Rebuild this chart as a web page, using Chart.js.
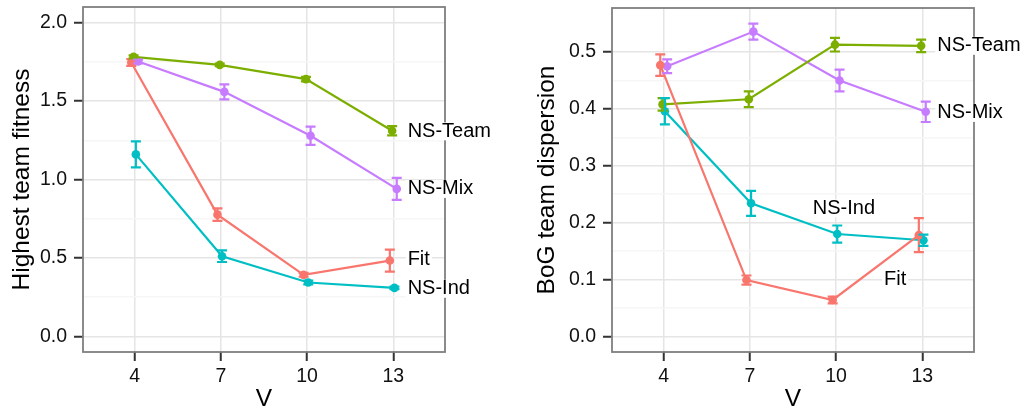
<!DOCTYPE html>
<html>
<head>
<meta charset="utf-8">
<script src="https://cdn.jsdelivr.net/npm/chart.js@4.4.1/dist/chart.umd.min.js"></script>
<style>
  html, body { margin: 0; padding: 0; background: #fff; }
  #wrap { position: relative; width: 1026px; height: 410px; overflow: hidden; }
  canvas { position: absolute; top: 0; }
</style>
</head>
<body>
<div id="wrap">
  <canvas id="left" width="513" height="410" style="left:0"></canvas>
  <canvas id="right" width="513" height="410" style="left:513px"></canvas>
</div>
<script>
const V = [4, 7, 10, 13];
const seriesNames = ['Fit', 'NS-Team', 'NS-Ind', 'NS-Mix'];
const seriesColors = ['#F8766D', '#7CAE00', '#00BFC4', '#C77CFF'];

// highest team fitness: mean and half-width of the error bar
const fitnessFit = [1.746, 0.776, 0.392, 0.483];
const fitnessFitErr = [0.021, 0.040, 0.012, 0.070];
const fitnessTeam = [1.782, 1.731, 1.640, 1.311];
const fitnessTeamErr = [0.010, 0.008, 0.014, 0.030];
const fitnessInd = [1.160, 0.511, 0.343, 0.309];
const fitnessIndErr = [0.083, 0.037, 0.012, 0.008];
const fitnessMix = [1.753, 1.559, 1.279, 0.940];
const fitnessMixErr = [0.012, 0.048, 0.058, 0.070];

// BoG team dispersion
const dispFit = [0.477, 0.099, 0.064, 0.178];
const dispFitErr = [0.019, 0.008, 0.006, 0.030];
const dispTeam = [0.408, 0.417, 0.513, 0.511];
const dispTeamErr = [0.011, 0.014, 0.012, 0.011];
const dispInd = [0.396, 0.234, 0.180, 0.169];
const dispIndErr = [0.023, 0.022, 0.015, 0.010];
const dispMix = [0.475, 0.536, 0.450, 0.395];
const dispMixErr = [0.012, 0.014, 0.019, 0.018];

const fitnessTicks = [0, 0.5, 1, 1.5, 2];
const dispTicks = [0, 0.1, 0.2, 0.3, 0.4, 0.5];

// where the series names sit (left edge x, centre y), same order as seriesNames
const fitnessLabelX = [13.5, 13.5, 13.5, 13.5];
const fitnessLabelY = [0.487, 1.307, 0.303, 0.94];
const dispLabelX = [11.67, 13.52, 9.19, 13.52];
const dispLabelY = [0.100, 0.511, 0.225, 0.393];

const FONT = "'Liberation Sans', Arial, Helvetica, sans-serif";
const dodge = [-0.12, -0.04, 0.04, 0.12]; // position_dodge look

function makePanel(id, p) {
  const isMajor = v => p.ticks.some(t => Math.abs(t - v) < 1e-9);

  const datasets = seriesNames.map((name, s) => ({
    label: name,
    data: V.map((v, i) => ({ x: v + dodge[s], y: p.means[s][i] })),
    borderColor: seriesColors[s],
    backgroundColor: seriesColors[s],
    borderWidth: 2.2,
    pointRadius: 4.3,
    pointHoverRadius: 4.3,
    pointBorderWidth: 0,
    tension: 0
  }));

  const extras = {
    id: 'extras',
    afterDatasetsDraw(chart) {
      const { ctx, chartArea: a, scales: { x, y } } = chart;
      ctx.save();
      // error bars
      ctx.lineWidth = 2.2;
      seriesNames.forEach((name, s) => {
        ctx.strokeStyle = seriesColors[s];
        V.forEach((v, i) => {
          const px = x.getPixelForValue(v + dodge[s]);
          const top = y.getPixelForValue(p.means[s][i] + p.errs[s][i]);
          const bot = y.getPixelForValue(p.means[s][i] - p.errs[s][i]);
          ctx.beginPath();
          ctx.moveTo(px, top); ctx.lineTo(px, bot);
          ctx.moveTo(px - 5, top); ctx.lineTo(px + 5, top);
          ctx.moveTo(px - 5, bot); ctx.lineTo(px + 5, bot);
          ctx.stroke();
        });
      });
      // panel border
      ctx.strokeStyle = '#7f7f7f';
      ctx.lineWidth = 1.8;
      ctx.strokeRect(a.left, a.top, a.right - a.left, a.bottom - a.top);
      // series names with a white box behind
      ctx.font = '20px ' + FONT;
      ctx.textBaseline = 'middle';
      ctx.textAlign = 'left';
      seriesNames.forEach((name, s) => {
        const lx = x.getPixelForValue(p.labelX[s]);
        const ly = y.getPixelForValue(p.labelY[s]);
        const w = ctx.measureText(name).width;
        ctx.fillStyle = '#fff';
        ctx.fillRect(lx - 2, ly - 9, w + 4, 18);
        ctx.fillStyle = '#000';
        ctx.fillText(name, lx, ly);
      });
      ctx.restore();
    }
  };

  return new Chart(document.getElementById(id), {
    type: 'line',
    data: { datasets },
    options: {
      responsive: false,
      animation: false,
      devicePixelRatio: 1,
      layout: { padding: { top: p.top, right: p.right, left: 0, bottom: 0 } },
      plugins: { legend: { display: false }, tooltip: { enabled: false } },
      scales: {
        x: {
          type: 'linear',
          min: 2.2,
          max: 14.8,
          afterBuildTicks: sc => { sc.ticks = V.map(v => ({ value: v })); },
          afterFit: sc => {
            sc.height = 58;
            sc.paddingLeft = 0; sc.paddingRight = 0;
          },
          border: { display: false },
          grid: { color: '#e5e5e5', lineWidth: 1.5, tickColor: '#333', tickWidth: 2, tickLength: 9 },
          ticks: {
            color: '#111', padding: 4, maxRotation: 0, autoSkip: false,
            font: { family: FONT, size: 19.5 },
            callback: v => String(v)
          },
          title: {
            display: true, text: 'V', color: '#000',
            font: { family: FONT, size: 24.5, lineHeight: 0.8 },
            padding: { top: 0, bottom: 0.7 }
          }
        },
        y: {
          min: p.min,
          max: p.max,
          afterBuildTicks: sc => {
            const t = [];
            p.ticks.forEach((v, i) => {
              t.push({ value: v });
              if (i < p.ticks.length - 1) t.push({ value: (v + p.ticks[i + 1]) / 2 });
            });
            sc.ticks = t;
          },
          afterFit: sc => {
            sc.width = p.axisW;
            sc.paddingTop = 0; sc.paddingBottom = 0;
          },
          border: { display: false },
          grid: {
            lineWidth: 1.5,
            color: c => isMajor(c.tick.value) ? '#e5e5e5' : '#f6f6f6',
            tickColor: c => isMajor(c.tick.value) ? '#333' : 'rgba(0,0,0,0)',
            tickWidth: 2,
            tickLength: 9
          },
          ticks: {
            color: '#111', padding: 7, autoSkip: false,
            font: { family: FONT, size: 19.5 },
            callback: v => isMajor(v) ? v.toFixed(1) : ''
          },
          title: {
            display: true, text: p.title, color: '#000',
            font: { family: FONT, size: 24.5, lineHeight: 1 },
            padding: { top: p.titlePad, bottom: 0 }
          }
        }
      }
    },
    plugins: [extras]
  });
}

makePanel('left', {
  means: [fitnessFit, fitnessTeam, fitnessInd, fitnessMix],
  errs: [fitnessFitErr, fitnessTeamErr, fitnessIndErr, fitnessMixErr],
  ticks: fitnessTicks,
  labelX: fitnessLabelX, labelY: fitnessLabelY,
  min: -0.1, max: 2.1,
  title: 'Highest team fitness',
  top: 7, right: 68, axisW: 83, titlePad: 10
});

makePanel('right', {
  means: [dispFit, dispTeam, dispInd, dispMix],
  errs: [dispFitErr, dispTeamErr, dispIndErr, dispMixErr],
  ticks: dispTicks,
  labelX: dispLabelX, labelY: dispLabelY,
  min: -0.0275, max: 0.5775,
  title: 'BoG team dispersion',
  top: 8, right: 52, axisW: 99, titlePad: 22
});
</script>
</body>
</html>
